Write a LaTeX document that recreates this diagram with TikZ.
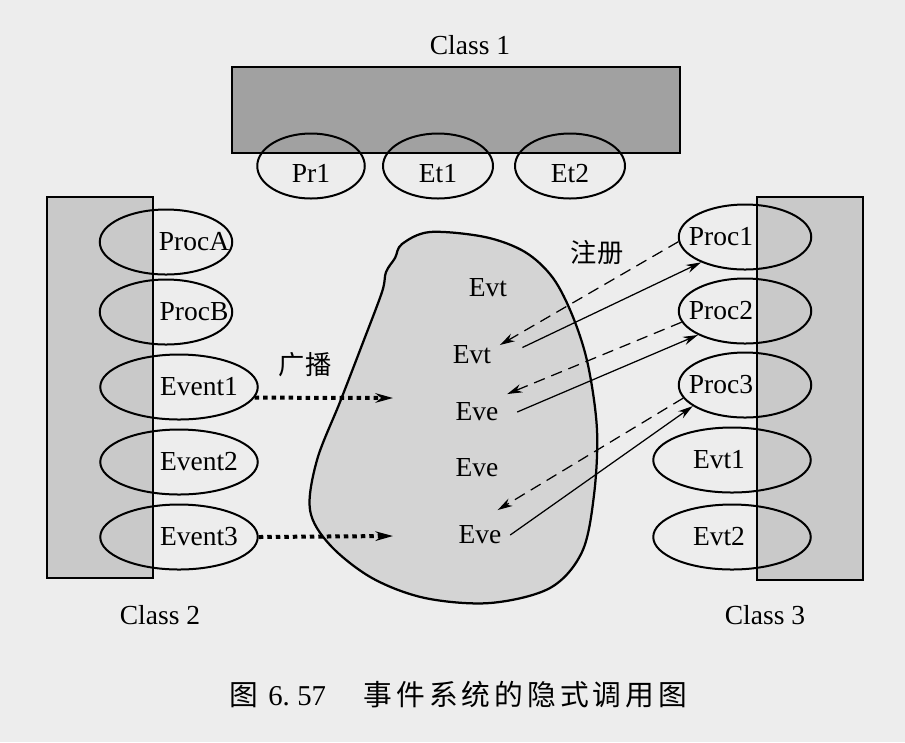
\documentclass[tikz,border=0pt]{standalone}
\usepackage{fontspec}
\setmainfont{Liberation Serif}
\newfontfamily\cjk{Noto Sans CJK SC}
\newfontfamily\cjkwide[LetterSpace=14]{Noto Sans CJK SC}
\usetikzlibrary{shapes.geometric,arrows.meta}
\definecolor{paper}{gray}{0.93}
\definecolor{darkbox}{gray}{0.63}
\definecolor{lightbox}{gray}{0.79}
\definecolor{blob}{gray}{0.83}
\begin{document}
\begin{tikzpicture}[x=0.4pt,y=-0.4pt,font=\fontsize{11}{13}\selectfont,
    box/.style={draw,line width=0.8pt,inner sep=0pt},
    oval/.style={draw,ellipse,line width=0.8pt,inner sep=0pt,minimum width=53pt,minimum height=26pt},
    wideoval/.style={oval,minimum width=63pt},
    topoval/.style={oval,minimum width=44pt},
    reg/.style={-{Stealth[length=6pt,width=3.4pt]},line width=0.5pt},
    regback/.style={reg,dash pattern=on 4.6pt off 2.8pt},
    cast/.style={-{Stealth[length=7pt,width=3.8pt]},line width=1.6pt,dash pattern=on 1.8pt off 1.6pt}]
      \useasboundingbox (0,0) rectangle (905,742);
      \fill[paper] (0,0) rectangle (905,742);
      \draw[fill=blob,line width=0.9pt] plot[smooth cycle,tension=0.55] coordinates {
        (430,232) (485,237) (525,252) (553,278) (573,317) (588,365) (597,430)
        (594,495) (582,552) (550,588) (490,603) (425,598) (372,578) (330,545)
        (310,510) (317,460) (340,402) (362,345) (382,292) (386,272) (395,258) (402,244)};
      \node[box,fill=darkbox,minimum width=179.2pt,minimum height=34.4pt] (k1) at (456,110) {};
      \node[box,fill=lightbox,minimum width=42.4pt,minimum height=152.4pt] (k2) at (100,387.5) {};
      \node[box,fill=lightbox,minimum width=42.4pt,minimum height=153.2pt] (k3) at (810,388.5) {};
      \draw
        (470,45) node (t1) {Class 1}
        (160,615) node (t2) {Class 2}
        (765,615) node (t3) {Class 3};
      \draw
        (311,166) node[topoval,minimum width=43pt,label={[yshift=-3pt]center:Pr1}] (pr1) {}
        (438,166) node[topoval,label={[yshift=-3pt]center:Et1}] (et1) {}
        (570,166) node[topoval,label={[yshift=-3pt]center:Et2}] (et2) {};
      \draw
        (166,242) node[oval,label={[xshift=11.2pt]center:ProcA}] (pa) {}
        (166,312) node[oval,label={[xshift=11.2pt]center:ProcB}] (pb) {}
        (179,387) node[wideoval,label={[xshift=8pt]center:Event1}] (ev1) {}
        (179,462) node[wideoval,label={[xshift=8pt]center:Event2}] (ev2) {}
        (179,537) node[wideoval,label={[xshift=8pt]center:Event3}] (ev3) {};
      \draw
        (745,237) node[oval,label={[xshift=-9.6pt]center:Proc1}] (p1) {}
        (745,311) node[oval,label={[xshift=-9.6pt]center:Proc2}] (p2) {}
        (745,385) node[oval,label={[xshift=-9.6pt]center:Proc3}] (p3) {}
        (732,460) node[wideoval,label={[xshift=-5.2pt]center:Evt1}] (v1) {}
        (732,537) node[wideoval,label={[xshift=-5.2pt]center:Evt2}] (v2) {};
      \draw
        (488,288) node (e1) {Evt}
        (472,355) node (e2) {Evt}
        (477,412) node (e3) {Eve}
        (477,468) node (e4) {Eve}
        (480,535) node (e5) {Eve};
      \draw
        (597,253) node (zc) {\cjk\fontsize{10.5}{12}\selectfont 注册}
        (305,365) node (gb) {\cjk\fontsize{10.5}{12}\selectfont 广播}
        (229,695) node[anchor=west,inner sep=0pt] (cap) {\fontsize{11.5}{13}\selectfont{\cjk 图}\hspace{4pt}6.\hspace{3pt}57\hspace{15pt}{\cjkwide 事件系统的隐式调用图}};
      \coordinate (b1) at (393,398);
      \coordinate (b2) at (393,536);
      \begin{scope}
        \draw[cast] (ev1.-8) to (b1);
        \draw[cast] (ev3.east) to (b2);
        \draw[regback] (p1.184) to ([yshift=4pt]e2.east);
        \draw[reg] ([xshift=9pt,yshift=3pt]e2.east) to (p1.210);
        \draw[regback] (p2.190) to (e3.north east);
        \draw[reg] ([xshift=4pt]e3.east) to (p2.207);
        \draw[regback] (p3.192) to ([xshift=-5pt,yshift=10pt]e5.east);
        \draw[reg] (e5.east) to (p3.202);
      \end{scope}
    \end{tikzpicture}
\end{document}
